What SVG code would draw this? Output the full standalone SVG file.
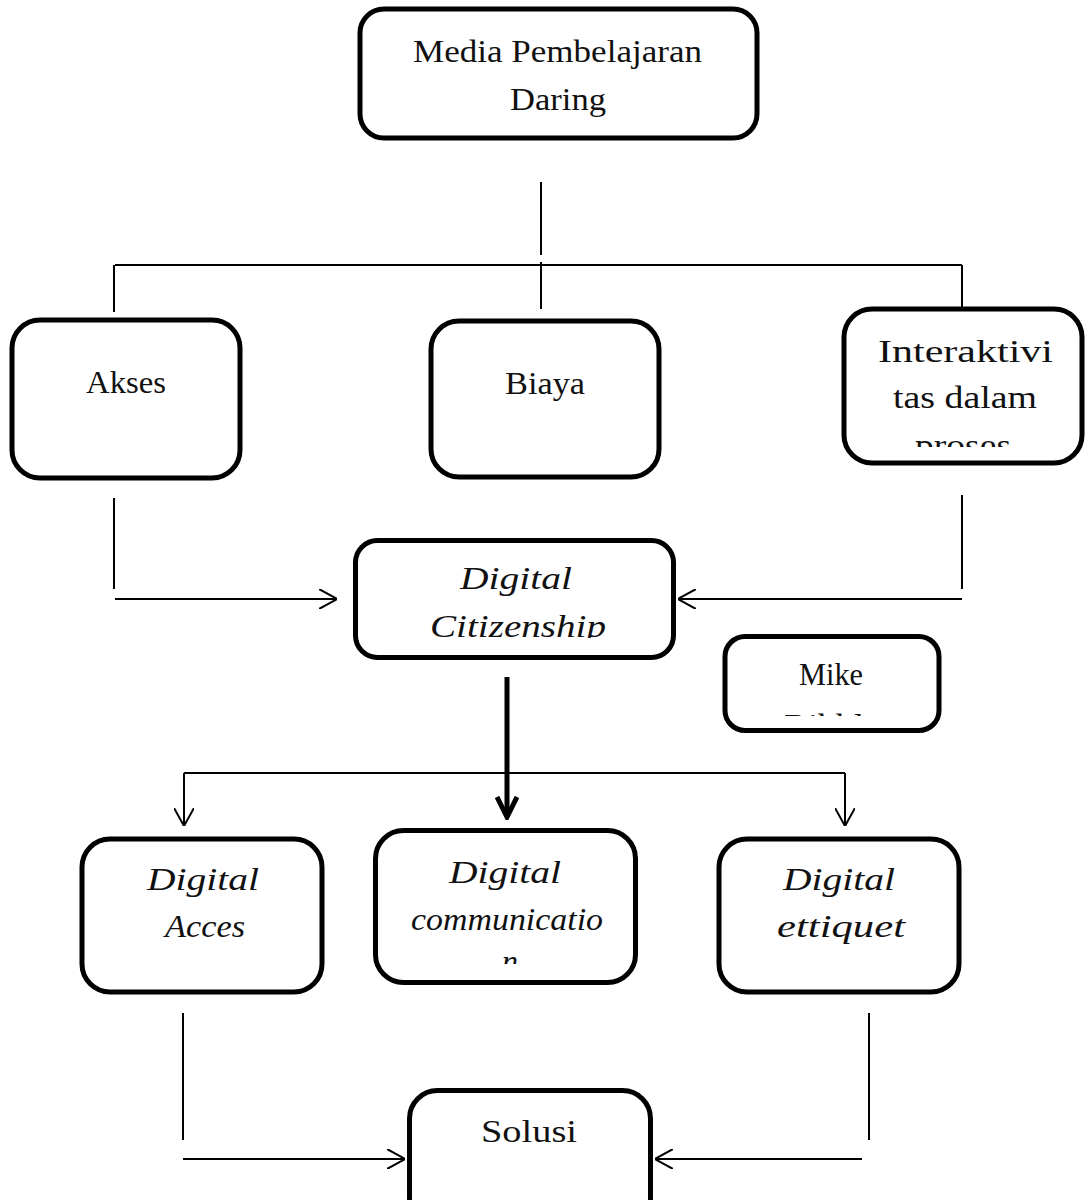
<svg xmlns="http://www.w3.org/2000/svg" width="1085" height="1200" viewBox="0 0 1085 1200">
<style>
  .box { fill: #fff; stroke: #000; stroke-width: 5; }
  .t { font-family: "Liberation Serif", "DejaVu Serif", serif; font-size: 32px; fill: #111; }
  .it { font-style: italic; }
  .ln { fill: none; stroke: #000; stroke-width: 2; }
  .thick { fill: none; stroke: #000; stroke-width: 5; }
</style>
<defs>
  <marker id="arr" viewBox="0 0 18 20" refX="18" refY="10" markerWidth="18" markerHeight="20" markerUnits="userSpaceOnUse" orient="auto">
    <path d="M0,0 L18,10 L0,20" fill="none" stroke="#000" stroke-width="2"/>
  </marker>
  <marker id="arrT" viewBox="0 0 24 24" refX="21" refY="12" markerWidth="24" markerHeight="24" markerUnits="userSpaceOnUse" orient="auto">
    <path d="M1,2 L21,12 L1,22" fill="none" stroke="#000" stroke-width="5"/>
  </marker>
  <clipPath id="cInt"><rect x="846" y="420" width="234" height="27"/></clipPath>
  <clipPath id="cCit"><rect x="357" y="600" width="314" height="38"/></clipPath>
  <clipPath id="cMike"><rect x="727" y="700" width="210" height="16"/></clipPath>
  <clipPath id="cCom"><rect x="378" y="940" width="255" height="24"/></clipPath>
</defs>

<g id="connectors">
  <path class="ln" d="M541,182 V255"/>
  <path class="ln" d="M115,265 H962"/>
  <path class="ln" d="M541,262 V309"/>
  <path class="ln" d="M114,265 V312"/>
  <path class="ln" d="M962,265 V308"/>
  <path class="ln" d="M114,498 V589"/>
  <path class="ln" d="M115,599 H337" marker-end="url(#arr)"/>
  <path class="ln" d="M962,495 V589"/>
  <path class="ln" d="M962,599 H678" marker-end="url(#arr)"/>
  <path class="thick" d="M507,677 V817" marker-end="url(#arrT)"/>
  <path class="ln" d="M184,773 H845"/>
  <path class="ln" d="M184,773 V826" marker-end="url(#arr)"/>
  <path class="ln" d="M845,773 V826" marker-end="url(#arr)"/>
  <path class="ln" d="M183,1013 V1140"/>
  <path class="ln" d="M183,1159 H405" marker-end="url(#arr)"/>
  <path class="ln" d="M869,1013 V1140"/>
  <path class="ln" d="M862,1159 H655" marker-end="url(#arr)"/>
</g>

<g id="media">
  <rect class="box" x="360" y="9" width="397" height="129" rx="24"/>
  <text class="t" x="413" y="62" textLength="289" lengthAdjust="spacingAndGlyphs">Media Pembelajaran</text>
  <text class="t" x="510" y="110" textLength="96" lengthAdjust="spacingAndGlyphs">Daring</text>
</g>

<g id="akses">
  <rect class="box" x="12" y="320" width="228" height="158" rx="28"/>
  <text class="t" x="86" y="393" textLength="80" lengthAdjust="spacingAndGlyphs">Akses</text>
</g>

<g id="biaya">
  <rect class="box" x="431" y="321" width="228" height="156" rx="28"/>
  <text class="t" x="505" y="394" textLength="80" lengthAdjust="spacingAndGlyphs">Biaya</text>
</g>

<g id="interaktivitas">
  <rect class="box" x="844" y="309" width="238" height="154" rx="28"/>
  <text class="t" x="878" y="362" textLength="175" lengthAdjust="spacingAndGlyphs">Interaktivi</text>
  <text class="t" x="893" y="408" textLength="144" lengthAdjust="spacingAndGlyphs">tas dalam</text>
  <g clip-path="url(#cInt)">
    <text class="t" x="915" y="456" textLength="96" lengthAdjust="spacingAndGlyphs">proses</text>
  </g>
</g>

<g id="citizenship">
  <rect class="box" x="355.5" y="540.5" width="318" height="117" rx="22"/>
  <text class="t it" x="460" y="589" textLength="112" lengthAdjust="spacingAndGlyphs">Digital</text>
  <g clip-path="url(#cCit)">
    <text class="t it" x="430" y="637" textLength="176" lengthAdjust="spacingAndGlyphs">Citizenship</text>
  </g>
</g>

<g id="mike">
  <rect class="box" x="725" y="636.5" width="214" height="94" rx="20"/>
  <text class="t" x="799" y="685" textLength="64" lengthAdjust="spacingAndGlyphs">Mike</text>
  <g clip-path="url(#cMike)">
    <text class="t" x="784" y="736" textLength="96" lengthAdjust="spacingAndGlyphs">Ribble</text>
  </g>
</g>

<g id="acces">
  <rect class="box" x="82" y="839" width="240" height="153" rx="28"/>
  <text class="t it" x="147" y="890" textLength="112" lengthAdjust="spacingAndGlyphs">Digital</text>
  <text class="t it" x="165" y="937" textLength="80" lengthAdjust="spacingAndGlyphs">Acces</text>
</g>

<g id="communication">
  <rect class="box" x="375.5" y="830.5" width="260" height="152" rx="28"/>
  <text class="t it" x="449" y="883" textLength="112" lengthAdjust="spacingAndGlyphs">Digital</text>
  <text class="t it" x="411" y="930" textLength="192" lengthAdjust="spacingAndGlyphs">communicatio</text>
  <g clip-path="url(#cCom)">
    <text class="t it" x="502" y="972" textLength="16" lengthAdjust="spacingAndGlyphs">n</text>
  </g>
</g>

<g id="ettiquet">
  <rect class="box" x="719" y="839" width="240" height="153" rx="28"/>
  <text class="t it" x="783" y="890" textLength="112" lengthAdjust="spacingAndGlyphs">Digital</text>
  <text class="t it" x="777" y="937" textLength="128" lengthAdjust="spacingAndGlyphs">ettiquet</text>
</g>

<g id="solusi">
  <rect class="box" x="409.5" y="1090.5" width="241" height="135" rx="28"/>
  <text class="t" x="481" y="1142" textLength="96" lengthAdjust="spacingAndGlyphs">Solusi</text>
</g>
</svg>
